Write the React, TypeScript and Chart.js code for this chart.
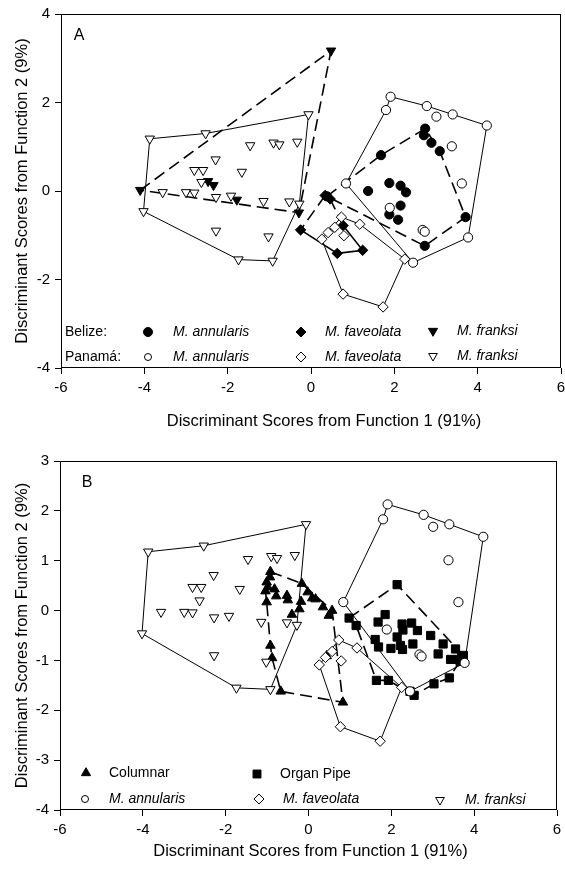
import React, { useEffect, useRef } from 'react';
import { Chart, registerables } from 'chart.js';

Chart.register(...registerables);

const FONT = "'Liberation Sans', Arial, Helvetica, sans-serif";

// ---------------- data ----------------
const xTickValues = [-6, -4, -2, 0, 2, 4, 6];
const yTickValuesA = [-4, -2, 0, 2, 4];
const yTickValuesB = [-4, -3, -2, -1, 0, 1, 2, 3];
const xAxisTitle = 'Discriminant Scores from Function 1 (91%)';
const yAxisTitle = 'Discriminant Scores from Function 2 (9%)';
const panelLabels = ['A', 'B'];
const legendRowLabelsA = ['Belize:', 'Panamá:'];
const speciesLabels = ['M. annularis', 'M. faveolata', 'M. franksi'];
const morphLabels = ['Columnar', 'Organ Pipe'];

// Panamá (open symbols), shown in both panels
const panamaAnnularis = [
  [1.91, 2.13], [1.8, 1.83], [2.78, 1.92], [3.01, 1.68], [3.4, 1.73], [4.22, 1.48], [3.38, 1.01],
  [3.62, 0.17], [0.84, 0.17], [1.89, -0.38], [2.68, -0.88], [2.73, -0.92], [3.77, -1.05], [2.45, -1.62],
];
const panamaAnnularisHull = [
  [1.8, 1.83], [1.91, 2.13], [2.78, 1.92], [3.4, 1.73], [4.22, 1.48], [3.77, -1.05], [2.45, -1.62], [0.84, 0.17], [1.8, 1.83],
];
const panamaFaveolata = [
  [0.73, -0.59], [1.17, -0.75], [0.57, -0.82], [0.41, -0.94], [0.26, -1.09], [0.79, -1.01], [2.25, -1.54], [0.77, -2.33], [1.73, -2.62],
];
const panamaFaveolataHull = [
  [0.73, -0.59], [1.17, -0.75], [2.25, -1.54], [1.73, -2.62], [0.77, -2.33], [0.26, -1.09], [0.73, -0.59],
];
const panamaFranksi = [
  [-3.87, 1.18], [-2.53, 1.3], [-0.06, 1.73], [-1.46, 1.03], [-0.9, 1.09], [-0.76, 1.05], [-0.33, 1.11],
  [-2.29, 0.71], [-2.8, 0.47], [-2.59, 0.47], [-1.66, 0.43], [-2.63, 0.2], [-3.56, -0.03], [-3.0, -0.03],
  [-2.8, -0.04], [-2.28, -0.14], [-1.92, -0.11], [-1.14, -0.23], [-0.52, -0.24], [-0.28, -0.29],
  [-4.02, -0.46], [-2.28, -0.9], [-1.02, -1.03], [-1.74, -1.55], [-0.92, -1.58],
];
const panamaFranksiHull = [
  [-3.87, 1.18], [-2.53, 1.3], [-0.06, 1.73], [-0.28, -0.29], [-0.92, -1.58], [-1.74, -1.55], [-4.02, -0.46], [-3.87, 1.18],
];

// Belize (filled symbols), panel A
const belizeAnnularis = [
  [2.74, 1.41], [2.71, 1.26], [2.89, 1.09], [3.09, 0.9], [1.68, 0.81], [1.37, 0.0], [1.88, 0.18], [2.15, 0.12],
  [2.28, -0.03], [2.15, -0.33], [1.88, -0.53], [2.09, -0.65], [3.71, -0.59], [2.73, -1.24], [0.38, -0.12],
];
const belizeAnnularisHull = [
  [0.38, -0.12], [1.68, 0.81], [2.74, 1.41], [3.09, 0.9], [3.71, -0.59], [2.73, -1.24], [0.38, -0.12],
];
const belizeFaveolata = [[0.34, -0.1], [0.46, -0.18], [-0.25, -0.88], [0.63, -1.41], [1.24, -1.34], [0.77, -0.78]];
const belizeFaveolataHullSolid = [[-0.25, -0.88], [0.63, -1.41], [1.24, -1.34], [0.77, -0.78]];
const belizeFaveolataHullDashed = [[0.77, -0.78], [0.46, -0.18], [0.34, -0.1], [-0.25, -0.88]];
const belizeFranksi = [[-4.1, 0.02], [0.48, 3.17], [-2.47, 0.22], [-2.34, 0.13], [-1.78, -0.2], [-0.29, -0.49]];
const belizeFranksiHull = [[-4.1, 0.02], [0.48, 3.17], [-0.29, -0.49], [-4.1, 0.02]];

// Growth forms, panel B
const columnar = [
  [-0.92, 0.78], [-0.93, 0.67], [-1.01, 0.57], [-0.98, 0.47], [-0.82, 0.43], [-1.04, 0.39], [-0.78, 0.29],
  [-0.52, 0.3], [-0.5, 0.21], [-1.01, 0.17], [-0.16, 0.54], [-0.02, 0.37], [0.09, 0.25], [0.17, 0.23],
  [-0.18, 0.18], [-0.22, 0.03], [-0.4, -0.08], [0.35, 0.07], [0.57, 0.0], [0.49, -0.1], [0.44, -0.91],
  [0.83, -1.84], [-0.67, -1.62], [-0.92, -0.7], [-0.88, -0.95],
];
const columnarHull = [
  [-0.92, 0.78], [-0.16, 0.54], [0.57, 0.0], [0.83, -1.84], [-0.67, -1.62], [-0.88, -0.95], [-0.92, -0.7],
  [-1.01, 0.17], [-1.04, 0.39], [-0.92, 0.78],
];
const organPipe = [
  [2.14, 0.52], [0.98, -0.15], [1.15, -0.3], [1.85, -0.08], [1.68, -0.23], [2.26, -0.27], [2.49, -0.25],
  [2.28, -0.39], [2.63, -0.4], [2.95, -0.5], [2.14, -0.53], [1.61, -0.58], [1.69, -0.73], [1.99, -0.76],
  [2.22, -0.7], [2.27, -0.78], [2.52, -0.67], [3.25, -0.67], [3.13, -0.87], [3.55, -0.77], [3.74, -0.9],
  [3.43, -0.98], [3.62, -0.98], [3.7, -0.93], [3.66, -1.02], [1.64, -1.4], [1.93, -1.4], [2.45, -1.62],
  [2.55, -1.7], [3.03, -1.47], [3.4, -1.35],
];
const organPipeHull = [
  [0.98, -0.15], [2.14, 0.52], [3.74, -0.9], [3.4, -1.35], [3.03, -1.47], [2.55, -1.7], [1.93, -1.4],
  [1.64, -1.4], [1.15, -0.3], [0.98, -0.15],
];

// ---------------- helpers ----------------
type Kind = 'circle' | 'diamond' | 'triUp' | 'triDown' | 'square';
const pts = (a: number[][]) => a.map(([x, y]) => ({ x, y }));

const styleOf: Record<Kind, { style: string; rot: number; r: number }> = {
  circle: { style: 'circle', rot: 0, r: 4.6 },
  diamond: { style: 'rectRot', rot: 0, r: 5.2 },
  triUp: { style: 'triangle', rot: 0, r: 5.5 },
  triDown: { style: 'triangle', rot: 180, r: 5.4 },
  square: { style: 'rect', rot: 0, r: 5.8 },
};

function pointDS(data: number[][], kind: Kind, filled: boolean) {
  const s = styleOf[kind];
  return {
    data: pts(data),
    showLine: false,
    pointStyle: s.style,
    pointRotation: s.rot,
    pointRadius: s.r,
    pointBackgroundColor: filled ? '#000' : '#fff',
    pointBorderColor: '#000',
    pointBorderWidth: 1,
    order: 0,
  };
}

function hullDS(data: number[][], dashed: boolean, width: number) {
  return {
    data: pts(data),
    showLine: true,
    pointRadius: 0,
    borderColor: '#000',
    borderWidth: width,
    borderDash: dashed ? [12, 6] : [],
    fill: false,
    tension: 0,
    order: 1,
  };
}

function drawSym(ctx: CanvasRenderingContext2D, kind: Kind, x: number, y: number, r: number, filled: boolean) {
  ctx.beginPath();
  if (kind === 'circle') ctx.arc(x, y, r, 0, Math.PI * 2);
  else if (kind === 'diamond') {
    ctx.moveTo(x - r, y); ctx.lineTo(x, y - r); ctx.lineTo(x + r, y); ctx.lineTo(x, y + r); ctx.closePath();
  } else if (kind === 'triUp') {
    ctx.moveTo(x, y - r); ctx.lineTo(x + r * 0.866, y + r * 0.5); ctx.lineTo(x - r * 0.866, y + r * 0.5); ctx.closePath();
  } else if (kind === 'triDown') {
    ctx.moveTo(x, y + r); ctx.lineTo(x + r * 0.866, y - r * 0.5); ctx.lineTo(x - r * 0.866, y - r * 0.5); ctx.closePath();
  } else {
    const s = r * Math.SQRT1_2; ctx.rect(x - s, y - s, 2 * s, 2 * s);
  }
  ctx.fillStyle = filled ? '#000' : '#fff';
  ctx.fill();
  ctx.lineWidth = 1;
  ctx.strokeStyle = '#000';
  ctx.stroke();
}

interface LegendEntry { kind?: Kind; filled?: boolean; r?: number; sx?: number; text: string; tx: number; italic: boolean; y: number; }

interface Panel {
  W: number; H: number; left: number; right: number; top: number; bottom: number;
  yTicks: number[]; yMin: number; yMax: number;
  label: string; labelX: number; labelY: number;
  xTitleX: number; xTitleY: number; yTitleX: number; yTitleY: number;
  legend: LegendEntry[];
  datasets: any[];
}

function buildConfig(P: Panel): any {
  const decor = {
    id: 'decor',
    afterDraw(chart: any) {
      const { ctx, chartArea: a } = chart;
      ctx.save();
      ctx.strokeStyle = '#000';
      ctx.lineWidth = 1;
      ctx.setLineDash([]);
      ctx.strokeRect(Math.round(a.left) + 0.5, Math.round(a.top) + 0.5, Math.round(a.right - a.left) - 1, Math.round(a.bottom - a.top) - 1);
      ctx.fillStyle = '#000';
      ctx.textBaseline = 'middle';
      ctx.textAlign = 'center';
      ctx.font = `16px ${FONT}`;
      ctx.fillText(P.label, P.labelX, P.labelY);
      ctx.font = `16.5px ${FONT}`;
      ctx.fillText(xAxisTitle, P.xTitleX, P.xTitleY);
      ctx.save();
      ctx.translate(P.yTitleX, P.yTitleY);
      ctx.rotate(-Math.PI / 2);
      ctx.fillText(yAxisTitle, 0, 0);
      ctx.restore();
      ctx.textAlign = 'left';
      for (const e of P.legend) {
        if (e.kind) drawSym(ctx, e.kind, e.sx!, e.y, e.r!, !!e.filled);
        ctx.fillStyle = '#000';
        ctx.font = `${e.italic ? 'italic ' : ''}14px ${FONT}`;
        ctx.fillText(e.text, e.tx, e.y + 0.5);
      }
      ctx.restore();
    },
  };

  return {
    type: 'scatter',
    data: { datasets: P.datasets },
    options: {
      responsive: false,
      animation: false,
      events: [],
      layout: { padding: { left: 0, top: P.top, right: P.W - P.right, bottom: 0 } },
      plugins: { legend: { display: false }, tooltip: { enabled: false } },
      scales: {
        x: {
          type: 'linear', position: 'bottom', min: -6, max: 6,
          afterBuildTicks: (ax: any) => { ax.ticks = xTickValues.map((v) => ({ value: v })); },
          afterFit: (ax: any) => { ax.height = P.H - P.bottom; },
          grid: { drawOnChartArea: false, drawTicks: true, tickLength: 6, color: '#000', lineWidth: 1 },
          border: { display: false },
          ticks: { color: '#000', font: { family: FONT, size: 15 }, padding: 5, autoSkip: false, maxRotation: 0, callback: (v: any) => String(v) },
          title: { display: false },
        },
        y: {
          type: 'linear', position: 'left', min: P.yMin, max: P.yMax,
          afterBuildTicks: (ax: any) => { ax.ticks = P.yTicks.map((v) => ({ value: v })); },
          afterFit: (ax: any) => { ax.width = P.left; },
          grid: { drawOnChartArea: false, drawTicks: true, tickLength: 6, color: '#000', lineWidth: 1 },
          border: { display: false },
          ticks: { color: '#000', font: { family: FONT, size: 15 }, padding: 5, autoSkip: false, callback: (v: any) => String(v) },
          title: { display: false },
        },
      },
    },
    plugins: [decor],
  };
}

const panamaPointSets = () => [
  pointDS(panamaAnnularis, 'circle', false),
  pointDS(panamaFaveolata, 'diamond', false),
  pointDS(panamaFranksi, 'triDown', false),
];
const panamaHullSets = () => [
  hullDS(panamaAnnularisHull, false, 1),
  hullDS(panamaFaveolataHull, false, 1),
  hullDS(panamaFranksiHull, false, 1),
];

const panelA: Panel = {
  W: 600, H: 440, left: 61, right: 561, top: 14, bottom: 368,
  yTicks: yTickValuesA, yMin: -4, yMax: 4,
  label: panelLabels[0], labelX: 79, labelY: 36,
  xTitleX: 324, xTitleY: 421, yTitleX: 22, yTitleY: 191,
  legend: [
    { text: legendRowLabelsA[0], tx: 65, italic: false, y: 332 },
    { text: legendRowLabelsA[1], tx: 65, italic: false, y: 357 },
    { kind: 'circle', filled: true, r: 4.5, sx: 148, text: speciesLabels[0], tx: 173, italic: true, y: 332 },
    { kind: 'diamond', filled: true, r: 5, sx: 301, text: speciesLabels[1], tx: 325, italic: true, y: 332 },
    { kind: 'triDown', filled: true, r: 5.3, sx: 433, text: speciesLabels[2], tx: 457, italic: true, y: 331 },
    { kind: 'circle', filled: false, r: 3.5, sx: 148, text: speciesLabels[0], tx: 173, italic: true, y: 357 },
    { kind: 'diamond', filled: false, r: 5, sx: 301, text: speciesLabels[1], tx: 325, italic: true, y: 357 },
    { kind: 'triDown', filled: false, r: 5, sx: 433, text: speciesLabels[2], tx: 457, italic: true, y: 356 },
  ],
  datasets: [
    ...panamaPointSets(),
    pointDS(belizeAnnularis, 'circle', true),
    pointDS(belizeFaveolata, 'diamond', true),
    pointDS(belizeFranksi, 'triDown', true),
    ...panamaHullSets(),
    hullDS(belizeAnnularisHull, true, 1.6),
    hullDS(belizeFaveolataHullSolid, false, 1.6),
    hullDS(belizeFaveolataHullDashed, true, 1.6),
    hullDS(belizeFranksiHull, true, 1.6),
  ],
};

const panelB: Panel = {
  W: 600, H: 439, left: 60, right: 557, top: 31, bottom: 380,
  yTicks: yTickValuesB, yMin: -4, yMax: 3,
  label: panelLabels[1], labelX: 87, labelY: 52.5,
  xTitleX: 310.5, xTitleY: 421, yTitleX: 22, yTitleY: 205.5,
  legend: [
    { kind: 'triUp', filled: true, r: 5.3, sx: 86, text: morphLabels[0], tx: 109, italic: false, y: 343 },
    { kind: 'square', filled: true, r: 5.6, sx: 257, text: morphLabels[1], tx: 280, italic: false, y: 344 },
    { kind: 'circle', filled: false, r: 3.5, sx: 85, text: speciesLabels[0], tx: 109, italic: true, y: 369 },
    { kind: 'diamond', filled: false, r: 5, sx: 259, text: speciesLabels[1], tx: 283, italic: true, y: 369 },
    { kind: 'triDown', filled: false, r: 5, sx: 440, text: speciesLabels[2], tx: 465, italic: true, y: 370 },
  ],
  datasets: [
    ...panamaPointSets(),
    pointDS(columnar, 'triUp', true),
    pointDS(organPipe, 'square', true),
    ...panamaHullSets(),
    hullDS(columnarHull, true, 1.6),
    hullDS(organPipeHull, true, 1.6),
  ],
};

export default function App() {
  const refA = useRef<HTMLCanvasElement>(null);
  const refB = useRef<HTMLCanvasElement>(null);
  useEffect(() => {
    const a = new Chart(refA.current as HTMLCanvasElement, buildConfig(panelA));
    const b = new Chart(refB.current as HTMLCanvasElement, buildConfig(panelB));
    return () => { a.destroy(); b.destroy(); };
  }, []);
  return (
    <div style={{ position: 'fixed', left: 0, top: 0, width: 565, height: 869, overflow: 'hidden', background: '#fff' }}>
      <canvas ref={refA} width={panelA.W} height={panelA.H} style={{ position: 'absolute', left: 0, top: 0 }} />
      <canvas ref={refB} width={panelB.W} height={panelB.H} style={{ position: 'absolute', left: 0, top: 430 }} />
    </div>
  );
}
